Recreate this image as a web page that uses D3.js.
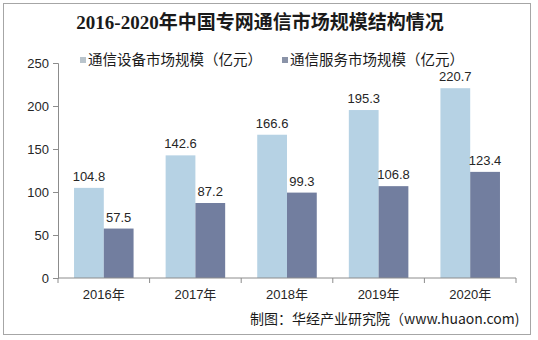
<!DOCTYPE html>
<html>
<head>
<meta charset="utf-8">
<script src="https://cdn.jsdelivr.net/npm/d3@7"></script>
<style>
  html, body { margin: 0; padding: 0; background: #fff; }
  svg { display: block; }
</style>
</head>
<body>
<svg id="chart" width="538" height="340"></svg>
<script>
// Chart data
const years = ["2016年", "2017年", "2018年", "2019年", "2020年"];
const seriesNames = ["通信设备市场规模（亿元）", "通信服务市场规模（亿元）"];
const equipment = [104.8, 142.6, 166.6, 195.3, 220.7];
const services = [57.5, 87.2, 99.3, 106.8, 123.4];
const yTicks = [0, 50, 100, 150, 200, 250];
const titleText = "2016-2020年中国专网通信市场规模结构情况";
const sourceText = "制图：华经产业研究院（www.huaon.com)";

const colors = ["#b6d2e4", "#727e9f"];
const fontSans = "'Liberation Sans', Arial, 'Noto Sans CJK SC', sans-serif";

const svg = d3.select("#chart");
const plotLeft = 58, plotRight = 516;

// Outer frame
svg.append("rect")
  .attr("x", 3.5).attr("y", 3.5)
  .attr("width", 527).attr("height", 331)
  .attr("fill", "#fff").attr("stroke", "#a6a6a6").attr("stroke-width", 1);

// Title
svg.append("text")
  .attr("x", 260).attr("y", 29)
  .attr("text-anchor", "middle")
  .attr("font-family", "'Liberation Serif', 'Noto Sans CJK SC', serif")
  .attr("font-weight", "bold")
  .attr("font-size", 19)
  .attr("fill", "#1a1a1a")
  .text(titleText);

// Scales: one band per year, two bars per group
const xCat = d3.scaleBand().domain(years).range([plotLeft, plotRight]).padding(0);
const step = xCat.step();
const groupPad = step * 0.175;
const x1 = d3.scaleBand()
  .domain([0, 1])
  .range([0, step - 2 * groupPad])
  .padding(0);

const y = d3.scaleLinear().domain([0, 250]).range([278, 63]);

// Bars
const groups = svg.append("g").selectAll("g")
  .data(years.map((yr, i) => ({ yr, vals: [equipment[i], services[i]] })))
  .join("g")
  .attr("transform", d => `translate(${xCat(d.yr) + groupPad},0)`);

groups.selectAll("rect")
  .data(d => d.vals.map((v, k) => ({ v, k })))
  .join("rect")
  .attr("x", d => x1(d.k))
  .attr("y", d => y(d.v))
  .attr("width", x1.bandwidth())
  .attr("height", d => y(0) - y(d.v))
  .attr("fill", d => colors[d.k]);

// Value labels
groups.selectAll("text.val")
  .data(d => d.vals.map((v, k) => ({ v, k })))
  .join("text")
  .attr("class", "val")
  .attr("x", d => x1(d.k) + x1.bandwidth() / 2)
  .attr("y", d => y(d.v) - 7)
  .attr("text-anchor", "middle")
  .attr("font-family", fontSans)
  .attr("font-size", 13)
  .attr("fill", "#262626")
  .text(d => d.v.toFixed(1));

// Y axis
const yAxis = svg.append("g")
  .attr("transform", `translate(${plotLeft},0)`)
  .call(d3.axisLeft(y).tickValues(yTicks).tickSize(5).tickPadding(4).tickFormat(d3.format("d")));
yAxis.select(".domain").attr("stroke", "#8c8c8c");
yAxis.selectAll(".tick line").attr("stroke", "#8c8c8c");
yAxis.selectAll(".tick text")
  .attr("font-family", fontSans).attr("font-size", 13).attr("fill", "#262626");

// X axis with tick marks at category boundaries
const xAxisG = svg.append("g").attr("transform", `translate(0,${y(0)})`);
xAxisG.append("line")
  .attr("x1", plotLeft).attr("x2", plotRight)
  .attr("stroke", "#8c8c8c");
const bounds = years.map(d => xCat(d)).concat([plotRight]);
xAxisG.selectAll("line.tk")
  .data(bounds)
  .join("line")
  .attr("class", "tk")
  .attr("x1", d => d).attr("x2", d => d)
  .attr("y1", 0).attr("y2", 5)
  .attr("stroke", "#8c8c8c");
xAxisG.selectAll("text")
  .data(years)
  .join("text")
  .attr("x", d => xCat(d) + step / 2)
  .attr("y", 21)
  .attr("text-anchor", "middle")
  .attr("font-family", fontSans)
  .attr("font-size", 13)
  .attr("fill", "#262626")
  .text(d => d);

// Legend
const legendX = [80, 282];
const legend = svg.append("g").selectAll("g")
  .data(seriesNames)
  .join("g")
  .attr("transform", (d, i) => `translate(${legendX[i]},60)`);
legend.append("rect")
  .attr("x", 0).attr("y", -3)
  .attr("width", 6).attr("height", 6)
  .attr("fill", (d, i) => i === 0 ? "#b9c4cc" : "#8a93a8");
legend.append("text")
  .attr("x", 8).attr("y", 5)
  .attr("font-family", "'Noto Sans CJK SC', sans-serif")
  .attr("font-size", 14.5)
  .attr("fill", "#1a1a1a")
  .text(d => d);

// Source note
svg.append("text")
  .attr("x", 250).attr("y", 324)
  .attr("font-family", "'Noto Sans CJK SC', sans-serif")
  .attr("font-size", 14)
  .attr("fill", "#1a1a1a")
  .text(sourceText);
</script>
</body>
</html>
